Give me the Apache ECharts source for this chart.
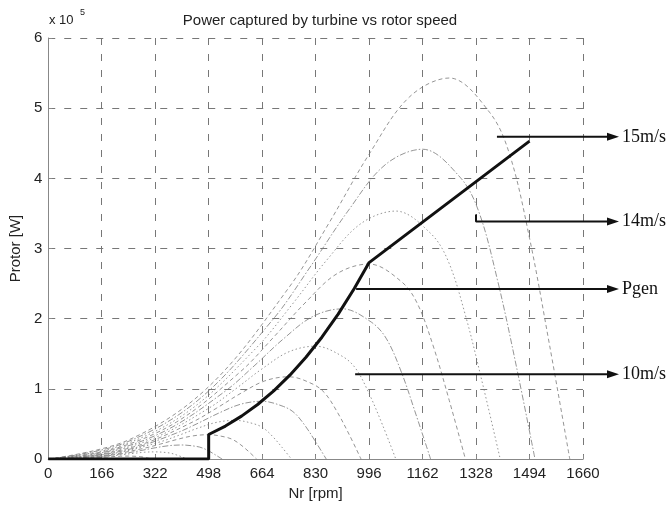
<!DOCTYPE html>
<html>
<head>
<meta charset="utf-8">
<script src="https://cdn.jsdelivr.net/npm/echarts@6/dist/echarts.min.js"></script>
<style>
  html, body { margin: 0; padding: 0; background: #fff; }
  #chart { width: 672px; height: 506px; }
</style>
</head>
<body>
<div id="chart"></div>
<script>
// x tick labels as printed on the figure (note "322")
const xTickLabels = ['0', '166', '322', '498', '664', '830', '996', '1162', '1328', '1494', '1660'];
const yTickLabels = ['0', '1', '2', '3', '4', '5', '6'];

// turbine power curves, [rpm, power in 1e5 W], one per wind speed
const v3 = [[0,0],[50,0.002],[100,0.008],[149,0.020],[174,0.027],[199,0.035],[224,0.041],[249,0.043],[274,0.039],[286,0.035],[299,0.025],[311,0.013],[324,0]];
const v4 = [[0,0],[66,0.005],[133,0.020],[199,0.046],[232,0.064],[266,0.082],[299,0.098],[332,0.103],[365,0.094],[382,0.082],[398,0.060],[415,0.031],[432,0]];
const v5 = [[0,0],[83,0.010],[166,0.038],[249,0.090],[291,0.125],[332,0.161],[374,0.191],[415,0.201],[457,0.183],[477,0.161],[498,0.117],[519,0.060],[540,0]];
const v6 = [[0,0],[100,0.017],[199,0.066],[299,0.156],[349,0.215],[398,0.278],[448,0.330],[498,0.348],[548,0.316],[573,0.278],[598,0.202],[623,0.104],[647,0]];
const v7 = [[0,0],[116,0.028],[232,0.105],[349,0.248],[407,0.342],[465,0.442],[523,0.524],[581,0.552],[639,0.502],[668,0.442],[697,0.320],[726,0.166],[755,0]];
const v8 = [[0,0],[133,0.041],[266,0.157],[398,0.371],[465,0.511],[531,0.659],[598,0.783],[664,0.824],[730,0.750],[764,0.659],[797,0.478],[830,0.247],[863,0]];
const v9 = [[0,0],[149,0.059],[299,0.223],[448,0.528],[523,0.727],[598,0.938],[672,1.114],[747,1.173],[822,1.067],[859,0.938],[896,0.680],[934,0.352],[971,0]];
const v10 = [[0,0],[166,0.080],[332,0.306],[498,0.724],[581,0.998],[664,1.287],[747,1.529],[830,1.609],[913,1.464],[955,1.287],[996,0.933],[1038,0.483],[1079,0]];
const v11 = [[0,0],[183,0.107],[365,0.407],[548,0.963],[639,1.327],[730,1.713],[822,2.034],[913,2.141],[1004,1.948],[1050,1.713],[1096,1.242],[1141,0.642],[1187,0]];
const v12 = [[0,0],[199,0.139],[398,0.528],[598,1.251],[697,1.724],[797,2.224],[896,2.641],[996,2.780],[1096,2.530],[1145,2.224],[1195,1.612],[1245,0.834],[1295,0]];
const v13 = [[0,0],[216,0.177],[432,0.671],[647,1.590],[755,2.191],[863,2.827],[971,3.357],[1079,3.534],[1187,3.216],[1241,2.827],[1295,2.050],[1349,1.060],[1403,0]];
const v14 = [[0,0],[232,0.221],[465,0.839],[697,1.987],[813,2.737],[930,3.532],[1046,4.194],[1162,4.415],[1278,4.018],[1336,3.532],[1394,2.561],[1453,1.325],[1511,0]];
const v15 = [[0,0],[249,0.272],[498,1.032],[747,2.444],[872,3.367],[996,4.344],[1121,5.159],[1245,5.430],[1370,4.941],[1432,4.344],[1494,3.149],[1556,1.629],[1619,0]];
const windCurves = [v3, v4, v5, v6, v7, v8, v9, v10, v11, v12, v13, v14, v15];

// generator power curve
const pgen = [[0,0],[498,0],[498,0.35],[550,0.471],[600,0.612],[650,0.778],[700,0.972],[750,1.196],[800,1.451],[850,1.740],[900,2.066],[950,2.430],[996,2.800],[1494,4.530]];

// annotation arrows, drawn on a wider hidden axis with the same rpm scale
const arrowEnd = 1753;
const annotations = [
  { label: '15m/s', from: [[1393, 4.595]] },
  { label: '14m/s', from: [[1328, 3.49], [1328, 3.39]] },
  { label: 'Pgen',  from: [[956, 2.43]] },
  { label: '10m/s', from: [[953, 1.22]] }
];

const plotW = 535;      // width of the main plot in px
const wideW = 590;      // width of the annotation overlay in px
const lineTypes = [[4, 3], [1.5, 2.5], [6, 2, 1.5, 2]];
const sans = '"Liberation Sans", Arial, sans-serif';

let chart = echarts.init(document.getElementById('chart'));
let series = [];

windCurves.forEach(function (c, i) {
  series.push({
    type: 'line',
    data: c,
    smooth: 0.35,
    showSymbol: false,
    silent: true,
    lineStyle: { color: '#7a7a7a', width: 0.8, type: lineTypes[i % 3] },
    z: 2
  });
});

series.push({
  type: 'line',
  data: pgen,
  showSymbol: false,
  silent: true,
  lineStyle: { color: '#111', width: 3 },
  z: 4
});

annotations.forEach(function (a) {
  let data = a.from.map(function (p) { return { value: p, symbol: 'none' }; });
  let y = a.from[a.from.length - 1][1];
  data.push({
    value: [arrowEnd, y],
    symbol: 'triangle',
    symbolSize: [8, 12],
    symbolRotate: -90,
    label: {
      show: true,
      position: 'right',
      distance: 3,
      formatter: a.label,
      fontFamily: '"Liberation Serif", "Times New Roman", serif',
      fontSize: 18,
      color: '#111'
    }
  });
  series.push({
    type: 'line',
    xAxisIndex: 1,
    yAxisIndex: 1,
    data: data,
    silent: true,
    showSymbol: true,
    itemStyle: { color: '#111' },
    lineStyle: { color: '#111', width: 2 },
    z: 5
  });
});

let gridLine = { show: true, lineStyle: { color: '#777', width: 1, type: [7, 9] } };

let option = {
  animation: false,
  backgroundColor: '#fff',
  title: {
    text: 'Power captured by turbine vs rotor speed',
    left: 315,
    textAlign: 'center',
    top: 8,
    textStyle: { fontFamily: sans, fontSize: 15, fontWeight: 'normal', color: '#222' }
  },
  graphic: [
    { type: 'text', left: 49, top: 14, style: { text: 'x 10', fontFamily: sans, fontSize: 13, fill: '#222' } },
    { type: 'text', left: 80, top: 8, style: { text: '5', fontFamily: sans, fontSize: 9, fill: '#222' } }
  ],
  grid: [
    { left: 48, width: plotW, top: 38, bottom: 46 },
    { left: 48, width: wideW, top: 38, bottom: 46 }
  ],
  xAxis: [{
    type: 'value',
    min: 0,
    max: 1660,
    interval: 166,
    name: 'Nr [rpm]',
    nameLocation: 'middle',
    nameGap: 24,
    nameTextStyle: { fontFamily: sans, fontSize: 15, color: '#222' },
    axisLine: { lineStyle: { color: '#888', width: 1 } },
    axisTick: { inside: true, length: 4, lineStyle: { color: '#888' } },
    axisLabel: {
      margin: 7,
      fontFamily: sans,
      fontSize: 15,
      color: '#222',
      formatter: function (v) { return xTickLabels[Math.round(v / 166)]; }
    },
    splitLine: gridLine
  }, {
    type: 'value',
    gridIndex: 1,
    min: 0,
    max: 1660 * wideW / plotW,
    show: false
  }],
  yAxis: [{
    type: 'value',
    min: 0,
    max: 6,
    interval: 1,
    name: 'Protor [W]',
    nameLocation: 'middle',
    nameGap: 20,
    nameTextStyle: { fontFamily: sans, fontSize: 15, color: '#222' },
    axisLine: { show: true, lineStyle: { color: '#888', width: 1 } },
    axisTick: { show: true, inside: true, length: 4, lineStyle: { color: '#888' } },
    axisLabel: {
      margin: 6,
      fontFamily: sans,
      fontSize: 15,
      color: '#222',
      formatter: function (v) { return yTickLabels[Math.round(v)]; }
    },
    splitLine: gridLine
  }, {
    type: 'value',
    gridIndex: 1,
    min: 0,
    max: 6,
    show: false
  }],
  series: series
};

option && chart.setOption(option);
</script>
</body>
</html>
